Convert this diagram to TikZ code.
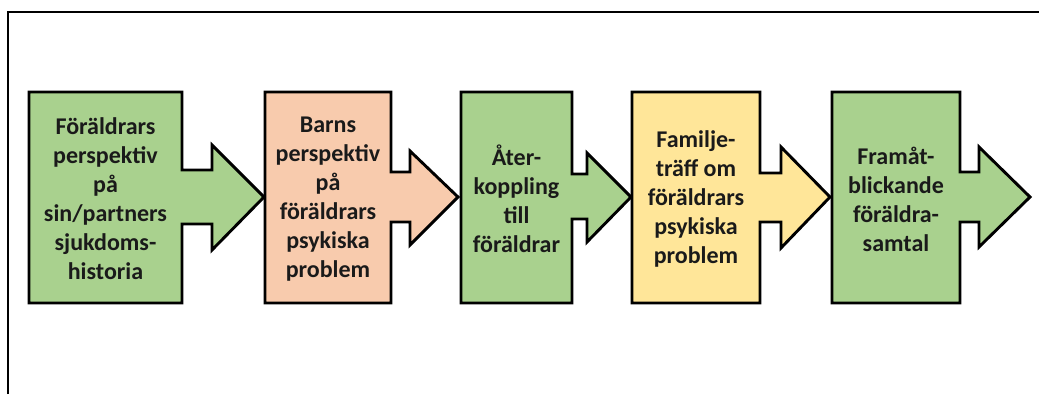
\documentclass[tikz,border=0pt]{standalone}
\usepackage{fontspec}
\setmainfont{Carlito}
\usepackage{tikz}
\usetikzlibrary{positioning}

\definecolor{grn}{HTML}{A9D18E}
\definecolor{peach}{HTML}{F8CBAD}
\definecolor{gul}{HTML}{FFE699}
\definecolor{ink}{HTML}{1A1A1A}

\begin{document}
\begin{tikzpicture}[x=1pt,y=-1pt,line join=miter,
                arrowbox/.style={draw=black,line width=2.9pt},
                boxtext/.style={align=center,inner sep=0pt,text=ink,font=\bfseries\fontsize{24}{29}\selectfont}]
                \useasboundingbox (0,0) rectangle (1039,394);
                \draw[line width=2.6pt] (8,394) -- (8,12) -- (1039,12);

                \draw[arrowbox,fill=grn]   (29,92) -- (182,92) -- (182,170) -- (212,170) -- (212,145) -- (264,197)
                                           -- (212,250) -- (212,224) -- (182,224) -- (182,303) -- (29,303) -- cycle;
                \draw[arrowbox,fill=peach] (265,92) -- (391,92) -- (391,172) -- (410,172) -- (410,151) -- (458,197)
                                           -- (410,245) -- (410,222) -- (391,222) -- (391,303) -- (265,303) -- cycle;
                \draw[arrowbox,fill=grn]   (461,92) -- (572,92) -- (572,174) -- (587,174) -- (587,153) -- (631,197)
                                           -- (587,242) -- (587,219) -- (572,219) -- (572,303) -- (461,303) -- cycle;
                \draw[arrowbox,fill=gul]   (632,92) -- (760,92) -- (760,173) -- (781,173) -- (781,147) -- (830,197)
                                           -- (781,248) -- (781,222) -- (760,222) -- (760,303) -- (632,303) -- cycle;
                \draw[arrowbox,fill=grn]   (832,92) -- (960,92) -- (960,172) -- (979,172) -- (979,147) -- (1030,197)
                                           -- (979,247) -- (979,222) -- (960,222) -- (960,303) -- (832,303) -- cycle;

                \node[boxtext] (fp) at (105.5,199) {Föräldrars\\perspektiv\\på\\sin/partners\\sjukdoms-\\historia};
                \node[boxtext] (bp) at (328,199)   {Barns\\perspektiv\\på\\föräldrars\\psykiska\\problem};
                \node[boxtext] (ak) at (516.5,199) {Åter-\\koppling\\till\\föräldrar};
                \node[boxtext] (ft) at (696,199)   {Familje-\\träff om\\föräldrars\\psykiska\\problem};
                \node[boxtext] (fs) at (896,199)   {Framåt-\\blickande\\föräldra-\\samtal};
\end{tikzpicture}
\end{document}
